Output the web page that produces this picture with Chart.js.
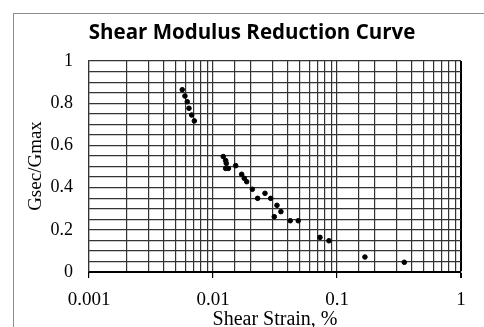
<!DOCTYPE html>
<html>
<head>
<meta charset="utf-8">
<script src="https://cdn.jsdelivr.net/npm/chart.js@4/dist/chart.umd.min.js"></script>
<style>
  body { margin: 0; overflow: hidden; background: #fff; }
  #frame { position: absolute; left: 13px; top: 13px; width: 600px; height: 600px; border: 1px solid #8c8c8c; }
  #shear-chart { position: absolute; left: 0; top: 0; }
</style>
</head>
<body>
<div id="frame"></div>
<canvas id="shear-chart" width="484" height="327"></canvas>
<script>
// data
const strain = [0.00565, 0.00594, 0.0062, 0.0064, 0.00673, 0.00707, 0.0121, 0.01265, 0.0128, 0.01265,
  0.0133, 0.01524, 0.01703, 0.01787, 0.0187, 0.02075, 0.0229, 0.02626, 0.0292, 0.0328,
  0.0353, 0.0312, 0.042, 0.0487, 0.0729, 0.0861, 0.168, 0.349];
const ratio = [0.864, 0.834, 0.807, 0.776, 0.744, 0.716, 0.547, 0.528, 0.515, 0.491,
  0.491, 0.504, 0.463, 0.444, 0.428, 0.392, 0.349, 0.373, 0.349, 0.316,
  0.286, 0.262, 0.243, 0.243, 0.164, 0.148, 0.071, 0.046];

const xMajorTicks = [0.001, 0.01, 0.1, 1];
const xTickLabels = ["0.001", "0.01", "0.1", "1"];
const yTickLabels = ["0", "0.2", "0.4", "0.6", "0.8", "1"];

const chartTitle = "Shear Modulus Reduction Curve";
const xTitle = "Shear Strain, %";
const yTitle = "Gsec/Gmax";

const points = strain.map((s, i) => ({ x: s, y: ratio[i] }));

const majorIndex = (v) => xMajorTicks.findIndex(m => Math.abs(m - v) < m * 1e-6);

// titles drawn straight onto the canvas
const titlePlugin = {
  id: "titles",
  afterDraw(chart) {
    const c = chart.ctx;
    c.save();
    c.fillStyle = "#000";
    c.textAlign = "center";
    c.textBaseline = "alphabetic";
    c.font = "bold 20.5px 'Open Sans'";
    c.fillText(chartTitle, 252, 39);

    c.font = "20px 'Liberation Serif'";
    c.fillText(xTitle, 275, 325);

    c.translate(36, 166);
    c.rotate(-Math.PI / 2);
    c.textBaseline = "middle";
    c.font = "19px 'Liberation Serif'";
    c.fillText(yTitle, 0, 0);
    c.restore();
  }
};

document.addEventListener("DOMContentLoaded", () => {
  const ctx = document.getElementById("shear-chart").getContext("2d");
  new Chart(ctx, {
    type: "scatter",
    data: {
      datasets: [{
        data: points,
        backgroundColor: "#000",
        borderColor: "#000",
        pointRadius: 2.3,
        pointHoverRadius: 2.3
      }]
    },
    options: {
      responsive: false,
      animation: false,
      layout: { padding: { top: 61, right: 23, left: 0, bottom: 0 } },
      plugins: {
        legend: { display: false },
        tooltip: { enabled: false }
      },
      scales: {
        x: {
          type: "logarithmic",
          min: 0.001,
          max: 1,
          afterFit: (scale) => { scale.height = 55; },
          grid: {
            color: (c) => (c.tick && Math.abs(c.tick.value - 1) < 1e-9) ? "#000" : "#333",
            lineWidth: (c) => (c.tick && Math.abs(c.tick.value - 1) < 1e-9) ? 2 : 1.2,
            tickLength: 6,
            tickColor: (c) => (c.tick && majorIndex(c.tick.value) >= 0) ? "#000" : "rgba(0,0,0,0)"
          },
          border: { color: "#000", width: 2 },
          ticks: {
            autoSkip: false,
            maxRotation: 0,
            padding: 11,
            color: "#000",
            font: { family: "'Liberation Serif'", size: 19 },
            callback: (v) => {
              const i = majorIndex(v);
              return i >= 0 ? xTickLabels[i] : "";
            }
          }
        },
        y: {
          min: 0,
          max: 1,
          afterFit: (scale) => { scale.width = 89; },
          grid: { color: "#333", lineWidth: 1.2, drawTicks: false },
          border: { color: "#333", width: 1.2 },
          ticks: {
            stepSize: 0.05,
            autoSkip: false,
            padding: 16,
            color: "#000",
            font: { family: "'Liberation Serif'", size: 18 },
            callback: (v) => {
              const k = Math.round(v * 100);
              return k % 20 === 0 ? yTickLabels[k / 20] : "";
            }
          }
        }
      }
    },
    plugins: [titlePlugin]
  });
});
</script>
</body>
</html>
